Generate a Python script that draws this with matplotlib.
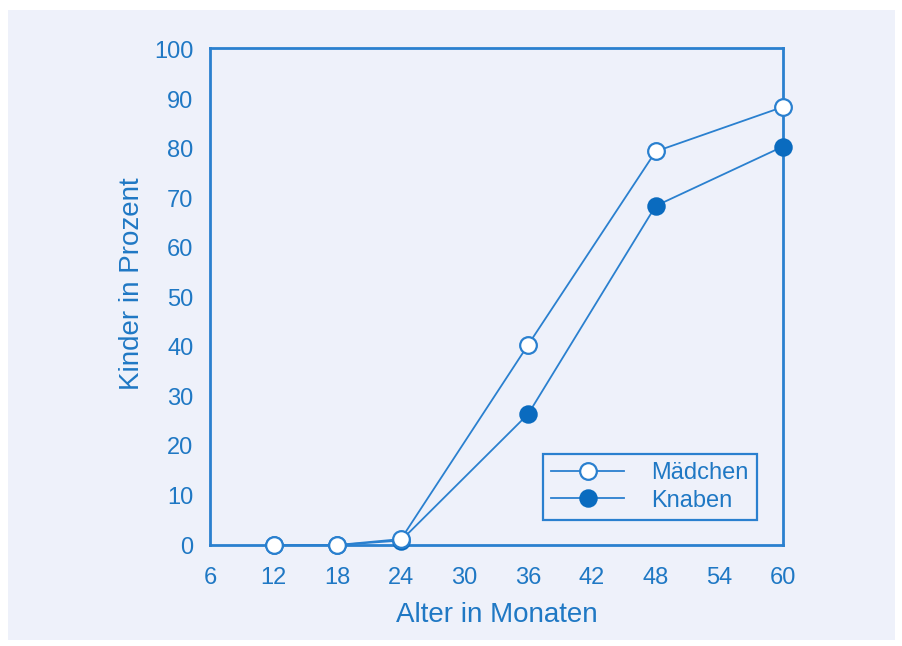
import matplotlib
matplotlib.use("Agg")
import matplotlib.pyplot as plt
from matplotlib.patches import Rectangle

months = [12, 18, 24, 36, 48, 60]
maedchen = [0, 0, 1.2, 40.5, 79.5, 88.5]
knaben = [0, 0, 0.9, 26.5, 68.5, 80.5]
x_ticks = [6, 12, 18, 24, 30, 36, 42, 48, 54, 60]
y_ticks = [0, 10, 20, 30, 40, 50, 60, 70, 80, 90, 100]

plt.rcParams['font.family'] = ['Liberation Sans', 'DejaVu Sans']
BLUE = '#1f78c4'
LINE = '#2a80cf'
FILL = '#0a6bbf'
BG = '#eef1fa'

fig = plt.figure(figsize=(9.03, 6.46), dpi=100, facecolor='white')
bg_ax = fig.add_axes([0, 0, 1, 1], zorder=-10)
bg_ax.set_axis_off()
bg_ax.set_xlim(0, 903)
bg_ax.set_ylim(646, 0)
bg_ax.add_patch(Rectangle((8, 10), 887, 630, facecolor=BG, edgecolor='none'))

ax = fig.add_axes([210/903, 1-545/646, (783-210)/903, (545-48)/646])
ax.set_facecolor(BG)

ax.plot(months, knaben, color=LINE, lw=1.3, marker='o', ms=12, mfc=FILL, mec=FILL, mew=1.3,
        label='Knaben', zorder=3, clip_on=False)
ax.plot(months, maedchen, color=LINE, lw=1.3, marker='o', ms=12, mfc='white', mec=LINE, mew=1.6,
        label='Mädchen', zorder=4, clip_on=False)

ax.set_xlim(6, 60)
ax.set_ylim(0, 100.4)
ax.set_xticks(x_ticks)
ax.set_yticks(y_ticks)
ax.tick_params(length=0, labelsize=17, colors=BLUE, pad=12)
ax.tick_params(axis='x', pad=16)
for s in ax.spines.values():
    s.set_color(LINE)
    s.set_linewidth(2)

ax.set_xlabel('Alter in Monaten', fontsize=20, color=BLUE, labelpad=9)
ax.set_ylabel('Kinder in Prozent', fontsize=20, color=BLUE)
ax.yaxis.set_label_coords((145-210)/573, (545-284)/497)

h, lab = ax.get_legend_handles_labels()
leg = ax.legend(h[::-1], lab[::-1], loc='lower right', bbox_to_anchor=((757-210)/573, (545-520)/497),
                borderaxespad=0, fontsize=17, frameon=True, fancybox=False, handlelength=3.1,
                labelspacing=0.25, borderpad=0.35, handletextpad=1.15, labelcolor=BLUE)
leg.get_frame().set_edgecolor(LINE)
leg.get_frame().set_linewidth(1.6)
leg.get_frame().set_facecolor(BG)
leg.get_frame().set_alpha(1)

fig.savefig('out.png', dpi=100, facecolor='white')
